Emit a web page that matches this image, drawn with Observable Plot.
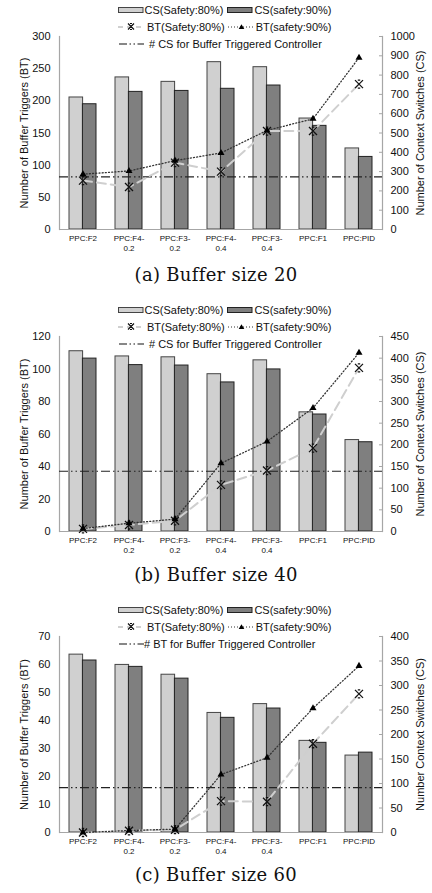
<!DOCTYPE html>
<html><head><meta charset="utf-8">
<script src="https://cdn.jsdelivr.net/npm/d3@7"></script>
<script src="https://cdn.jsdelivr.net/npm/@observablehq/plot@0.6"></script>
<style>
body{margin:0;background:#fff;font-family:"Liberation Sans",Arial,sans-serif;}
.panel{position:relative;width:432px;height:300px;overflow:hidden;}
.panel svg.plot{position:absolute;left:0;top:0;}
.legend{position:absolute;left:118px;top:1.5px;font-size:11px;color:#111;}
.row{display:flex;align-items:center;height:17px;white-space:nowrap;}
.caption{position:absolute;left:0;width:432px;text-align:center;font-family:"DejaVu Serif",serif;font-size:18px;letter-spacing:0.3px;line-height:20px;color:#111;}
</style></head><body><div id="chart"></div>
<script>
// categories (x axis)
const categories = ["PPC:F2","PPC:F4-\n0.2","PPC:F3-\n0.2","PPC:F4-\n0.4","PPC:F3-\n0.4","PPC:F1","PPC:PID"];
const seriesNames = ["CS(Safety:80%)","CS(safety:90%)","BT(Safety:80%)","BT(safety:90%)"];

// (a) Buffer size 20 — CS in context switches (right axis), BT in buffer triggers (left axis)
const cs80A = [684, 788, 765, 867, 841, 575, 420];
const cs90A = [649, 713, 718, 729, 746, 537, 376];
const bt80A = [76, 66, 104, 90, 153, 153, 226];
const bt90A = [86, 91, 107, 119, 154, 172, 267];
const refA = 273; // # CS for Buffer Triggered Controller
const leftTicksA = [0, 50, 100, 150, 200, 250, 300];
const rightTicksA = [0, 100, 200, 300, 400, 500, 600, 700, 800, 900, 1000];

// (b) Buffer size 40
const cs80B = [416, 404, 402, 363, 395, 275, 211];
const cs90B = [399, 384, 383, 344, 374, 270, 206];
const bt80B = [1.6, 4, 6.6, 28.7, 37.5, 51.3, 100.7];
const bt90B = [1.8, 5.1, 7.6, 42, 55.4, 76, 110];
const refB = 139; // # CS for Buffer Triggered Controller
const leftTicksB = [0, 20, 40, 60, 80, 100, 120];
const rightTicksB = [0, 50, 100, 150, 200, 250, 300, 350, 400, 450];

// (c) Buffer size 60
const cs80C = [363, 342, 322, 244, 262, 187, 157];
const cs90C = [351, 338, 314, 234, 253, 183, 163];
const bt80C = [0, 0.6, 1, 11.2, 11, 31.7, 49.5];
const bt90C = [0, 0.7, 1.2, 20.7, 26.7, 44.4, 59.5];
const refC = 16; // # BT for Buffer Triggered Controller
const leftTicksC = [0, 10, 20, 30, 40, 50, 60, 70];
const rightTicksC = [0, 50, 100, 150, 200, 250, 300, 350, 400];

const panels = [
  {cs80: cs80A, cs90: cs90A, bt80: bt80A, bt90: bt90A, ref: refA, refUnit: "CS",
   refLabel: "# CS for Buffer Triggered Controller", leftTicks: leftTicksA, rightTicks: rightTicksA,
   leftTitle: "Number of Buffer Triggers (BT)", rightTitle: "Number of Context Switches (CS)",
   caption: "(a) Buffer size 20", ph: 193},
  {cs80: cs80B, cs90: cs90B, bt80: bt80B, bt90: bt90B, ref: refB, refUnit: "CS",
   refLabel: "# CS for Buffer Triggered Controller", leftTicks: leftTicksB, rightTicks: rightTicksB,
   leftTitle: "Number of Buffer Triggers (BT)", rightTitle: "Number of Context Switches (CS)",
   caption: "(b) Buffer size 40", ph: 195},
  {cs80: cs80C, cs90: cs90C, bt80: bt80C, bt90: bt90C, ref: refC, refUnit: "BT",
   refLabel: "# BT for Buffer Triggered Controller", leftTicks: leftTicksC, rightTicks: rightTicksC,
   leftTitle: "Number of Buffer Triggers (BT)", rightTitle: "Number Context Switches (CS)",
   caption: "(c) Buffer size 60", ph: 196, tightRef: true}
];

// Excel-like "star" marker: X with small caps
const starSymbol = {
  draw(ctx, size) {
    const r = Math.sqrt(size / Math.PI);
    ctx.moveTo(-r, -r); ctx.lineTo(r, r);
    ctx.moveTo(r, -r); ctx.lineTo(-r, r);
    ctx.moveTo(-r * 0.3, -r); ctx.lineTo(r * 0.3, -r);
    ctx.moveTo(-r * 0.3, r); ctx.lineTo(r * 0.3, r);
  }
};

const LIGHT = "#d0d0d0", DARK = "#7f7f7f", AXIS = "#a6a6a6";

function legendHTML(p) {
  const bar = (fill, stroke) => `<svg width="26" height="12"><rect x="0.5" y="3.5" width="24.5" height="5" fill="${fill}" stroke="${stroke}"/></svg>`;
  const dashSw = `<svg width="26" height="12"><line x1="0" y1="6" x2="26" y2="6" stroke="#cfcfcf" stroke-width="2" stroke-dasharray="5,4"/><path d="M10,2.5L16,8.5M16,2.5L10,8.5M12,2.5H14M12,8.5H14" stroke="#111" stroke-width="1.2" fill="none"/></svg>`;
  const dotSw = `<svg width="27" height="12"><line x1="0" y1="6" x2="27" y2="6" stroke="#333" stroke-width="1.2" stroke-dasharray="1,2"/><path d="M13.5,3.2L16.3,8L10.7,8Z" fill="#000"/></svg>`;
  const refSw = `<svg width="25" height="12"><line x1="0" y1="6" x2="25" y2="6" stroke="#111" stroke-width="1.2" stroke-dasharray="8,2.5,1.5,2.5,1.5,2.5"/></svg>`;
  return `<div class="legend">
    <div class="row">${bar(LIGHT, "#444")}<span style="margin-left:0.5px">${seriesNames[0]}</span><span style="margin-left:4px;display:flex">${bar(DARK, "#222")}</span><span style="margin-left:1px">${seriesNames[1]}</span></div>
    <div class="row">${dashSw}<span style="margin-left:3px">${seriesNames[2]}</span><span style="margin-left:3px;display:flex">${dotSw}</span><span style="margin-left:1px">${seriesNames[3]}</span></div>
    <div class="row" style="margin-left:1px">${refSw}<span style="margin-left:${p.tightRef ? 0 : 5}px">${p.refLabel}</span></div>
  </div>`;
}

const root = document.getElementById("chart");
for (const p of panels) {
  const leftMax = d3.max(p.leftTicks), rightMax = d3.max(p.rightTicks);
  const k = leftMax / rightMax; // right-axis units -> left-axis units
  const rows = categories.map((c, i) => ({c, cs80: p.cs80[i] * k, cs90: p.cs90[i] * k, bt80: p.bt80[i], bt90: p.bt90[i]}));
  const refY = p.refUnit === "CS" ? p.ref * k : p.ref;
  const mt = 36, mb = 30;
  const svg = Plot.plot({
    width: 432, height: mt + p.ph + mb,
    marginTop: mt, marginBottom: mb, marginLeft: 59, marginRight: 50,
    style: {fontFamily: "Liberation Sans, Arial, sans-serif", fontSize: "11px", color: "#111", background: "transparent"},
    x: {type: "band", domain: categories, paddingInner: 0.42, paddingOuter: 0.21, axis: null},
    y: {domain: [0, leftMax], axis: null},
    marks: [
      Plot.barY(rows, {x: "c", y: "cs80", fill: LIGHT, stroke: "#444", strokeWidth: 1, insetRight: 13.4}),
      Plot.barY(rows, {x: "c", y: "cs90", fill: DARK, stroke: "#222", strokeWidth: 1, insetLeft: 13.4}),
      Plot.ruleY([0], {stroke: AXIS, strokeWidth: 1.2}),
      Plot.frame({anchor: "left", stroke: AXIS, strokeWidth: 1.2}),
      Plot.frame({anchor: "right", stroke: AXIS, strokeWidth: 1.2}),
      Plot.ruleY([refY], {stroke: "#222", strokeWidth: 1.2, strokeDasharray: "9,3,1.5,3,1.5,3"}),
      Plot.line(rows, {x: "c", y: "bt80", stroke: "#cfcfcf", strokeWidth: 2, strokeDasharray: "9,5"}),
      Plot.line(rows, {x: "c", y: "bt90", stroke: "#333", strokeWidth: 1.3, strokeDasharray: "1,2.2"}),
      Plot.dot(rows, {x: "c", y: "bt80", symbol: starSymbol, r: 4, stroke: "#111", strokeWidth: 1.3, fill: "none"}),
      Plot.dot(rows, {x: "c", y: "bt90", symbol: "triangle", r: 2.6, fill: "#000", stroke: "none"}),
      Plot.axisX({tickSize: 0, tickPadding: 4, fontSize: 8, lineHeight: 1.3, tickFormat: d => d, label: null}),
      Plot.axisY(p.leftTicks, {anchor: "left", tickSize: 0, tickPadding: 9, fontSize: 11,
        label: p.leftTitle, labelAnchor: "center", labelArrow: "none", labelOffset: 39}),
      Plot.axisY(p.rightTicks.map(v => v * k), {anchor: "right", tickSize: -4, tickPadding: 12, stroke: AXIS, fontSize: 11,
        tickFormat: v => String(Math.round(v / k)), label: p.rightTitle, labelAnchor: "center", labelArrow: "none", labelOffset: 41})
    ]
  });
  svg.classList.add("plot");
  const div = document.createElement("div");
  div.className = "panel";
  div.appendChild(svg);
  div.insertAdjacentHTML("beforeend", legendHTML(p));
  div.insertAdjacentHTML("beforeend", `<div class="caption" style="top:265px">${p.caption}</div>`);
  root.appendChild(div);
}
</script>
</body></html>
